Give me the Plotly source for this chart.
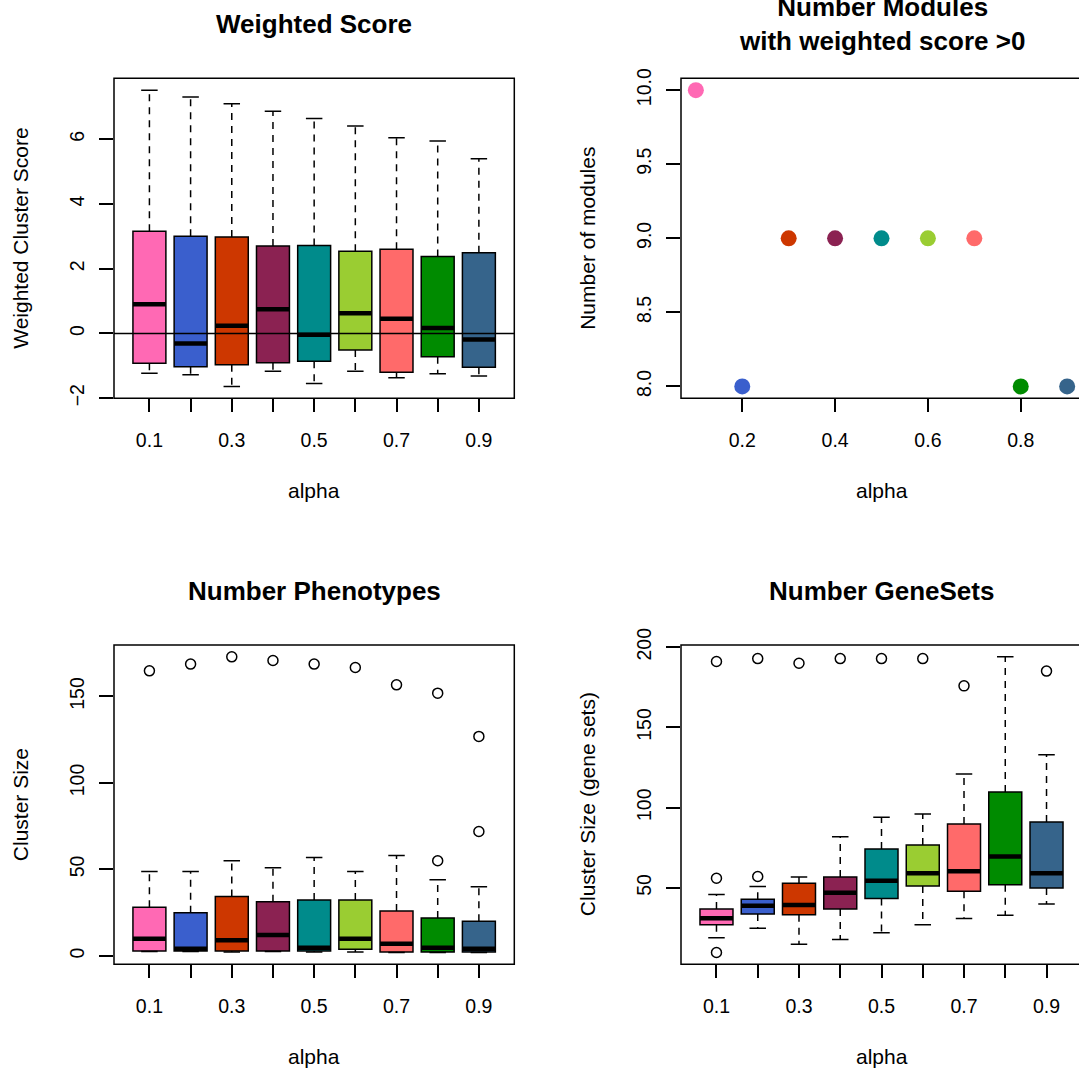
import plotly.graph_objects as go

# ---------------- data ----------------
alpha_idx = [1, 2, 3, 4, 5, 6, 7, 8, 9]
alpha_vals = [0.1, 0.2, 0.3, 0.4, 0.5, 0.6, 0.7, 0.8, 0.9]
alpha_ticktext = ["0.1", "", "0.3", "", "0.5", "", "0.7", "", "0.9"]
colors = ["#FF69B4", "#3A5FCD", "#CD3700", "#8B2252", "#008B8B",
          "#9ACD32", "#FF6A6A", "#008B00", "#36648B"]

# Weighted Score boxplot stats
ws_upper = [7.52, 7.31, 7.10, 6.87, 6.64, 6.41, 6.05, 5.95, 5.40]
ws_q3 = [3.16, 3.00, 2.98, 2.70, 2.72, 2.54, 2.60, 2.38, 2.49]
ws_med = [0.90, -0.31, 0.24, 0.75, -0.04, 0.62, 0.45, 0.17, -0.19]
ws_q1 = [-0.92, -1.03, -0.97, -0.91, -0.86, -0.51, -1.20, -0.72, -1.05]
ws_lower = [-1.23, -1.28, -1.64, -1.17, -1.55, -1.17, -1.37, -1.25, -1.32]
ws_out = [[], [], [], [], [], [], [], [], []]

# Number of modules with weighted score > 0
n_modules = [10, 8, 9, 9, 9, 9, 9, 8, 8]

# Number Phenotypes boxplot stats
ph_upper = [48.8, 48.8, 55.0, 51.0, 56.9, 48.8, 58.1, 44.0, 40.0]
ph_q3 = [28.1, 25.0, 34.4, 31.3, 32.3, 32.3, 26.0, 21.9, 20.0]
ph_med = [10.0, 4.2, 9.0, 12.1, 4.8, 10.0, 7.1, 4.8, 4.2]
ph_q1 = [2.9, 2.9, 2.9, 2.9, 2.9, 3.8, 2.3, 2.3, 2.3]
ph_lower = [2.5, 2.5, 2.3, 2.5, 2.3, 2.3, 2.0, 2.0, 2.0]
ph_out = [[164.8], [168.7], [172.9], [170.8], [168.7], [166.7], [156.7],
          [151.9, 55.0], [126.9, 71.9]]

# Number GeneSets boxplot stats
gs_upper = [45.9, 50.8, 56.8, 81.9, 94.0, 96.1, 121.0, 194.0, 133.0]
gs_q3 = [36.9, 42.9, 52.9, 56.8, 74.3, 76.8, 89.8, 109.8, 91.1]
gs_med = [31.1, 38.8, 39.4, 46.9, 54.4, 59.1, 60.4, 69.5, 59.1]
gs_q1 = [27.0, 33.8, 33.2, 36.9, 43.4, 51.2, 47.9, 51.9, 50.0]
gs_lower = [18.9, 24.9, 14.9, 17.8, 22.0, 27.0, 30.9, 33.0, 40.0]
gs_out = [[191.1, 56.0, 9.75], [192.9, 57.1], [190.0], [192.9], [192.9],
          [192.9], [175.9], [], [185.1]]

# ---------------- layout geometry ----------------
W, H = 1079, 1075
COLX = [(114.0, 514.3), (681.0, 1082.0)]
ROWY = [(78.3, 398.3), (645.0, 964.3)]
FONT = "Liberation Sans, Arial, Helvetica, sans-serif"
TICKFONT = 19.5
LABELFONT = 21
TITLEFONT = 26
LW = 1.5


def rrange(lo, hi):
    d = hi - lo
    return [lo - 0.04 * d, hi + 0.04 * d]


def xdomain(col):
    x0, x1 = COLX[col]
    return [x0 / W, min(x1, W) / W]


def visible_range(col, rng):
    x0, x1 = COLX[col]
    if x1 <= W:
        return rng
    frac = (W - x0) / (x1 - x0)
    return [rng[0], rng[0] + frac * (rng[1] - rng[0])]


def ydomain(row):
    y0, y1 = ROWY[row]
    return [1 - y1 / H, 1 - y0 / H]


fig = go.Figure()


def add_box_panel(k, upper, q3, med, q1, lower, outs):
    xa, ya = ("x" if k == 1 else f"x{k}"), ("y" if k == 1 else f"y{k}")
    fig.add_trace(go.Bar(
        x=alpha_idx, y=[a - b for a, b in zip(q3, q1)], base=q1, width=0.8,
        marker=dict(color=colors, line=dict(color="black", width=LW)),
        xaxis=xa, yaxis=ya, showlegend=False, hoverinfo="skip"))
    # dashed whiskers
    wx, wy = [], []
    for i, xi in enumerate(alpha_idx):
        wx += [xi, xi, None, xi, xi, None]
        wy += [q3[i], upper[i], None, q1[i], lower[i], None]
    fig.add_trace(go.Scatter(x=wx, y=wy, mode="lines",
                             line=dict(color="black", width=LW, dash="7px,6px"),
                             xaxis=xa, yaxis=ya, showlegend=False, hoverinfo="skip"))
    # staples
    sx, sy = [], []
    for i, xi in enumerate(alpha_idx):
        sx += [xi - 0.2, xi + 0.2, None, xi - 0.2, xi + 0.2, None]
        sy += [upper[i], upper[i], None, lower[i], lower[i], None]
    fig.add_trace(go.Scatter(x=sx, y=sy, mode="lines",
                             line=dict(color="black", width=LW),
                             xaxis=xa, yaxis=ya, showlegend=False, hoverinfo="skip"))
    # medians
    mx, my = [], []
    for i, xi in enumerate(alpha_idx):
        mx += [xi - 0.4, xi + 0.4, None]
        my += [med[i], med[i], None]
    fig.add_trace(go.Scatter(x=mx, y=my, mode="lines",
                             line=dict(color="black", width=4.5),
                             xaxis=xa, yaxis=ya, showlegend=False, hoverinfo="skip"))
    # outliers
    ox, oy = [], []
    for i, xi in enumerate(alpha_idx):
        for v in outs[i]:
            ox.append(xi)
            oy.append(v)
    if ox:
        fig.add_trace(go.Scatter(x=ox, y=oy, mode="markers",
                                 marker=dict(symbol="circle-open", size=10,
                                             color="black", line=dict(width=LW)),
                                 xaxis=xa, yaxis=ya, showlegend=False, hoverinfo="skip"))


add_box_panel(1, ws_upper, ws_q3, ws_med, ws_q1, ws_lower, ws_out)
fig.add_trace(go.Scatter(x=alpha_vals, y=n_modules, mode="markers",
                         marker=dict(color=colors, size=16),
                         xaxis="x2", yaxis="y2", showlegend=False, hoverinfo="skip"))
add_box_panel(3, ph_upper, ph_q3, ph_med, ph_q1, ph_lower, ph_out)
add_box_panel(4, gs_upper, gs_q3, gs_med, gs_q1, gs_lower, gs_out)


def allvals(upper, lower, outs):
    v = list(upper) + list(lower)
    for o in outs:
        v += o
    return min(v), max(v)


box_xrange = rrange(0.5, 9.5)
ranges_y = {
    1: rrange(*allvals(ws_upper, ws_lower, ws_out)),
    2: rrange(min(n_modules), max(n_modules)),
    3: rrange(*allvals(ph_upper, ph_lower, ph_out)),
    4: rrange(*allvals(gs_upper, gs_lower, gs_out)),
}
ranges_x = {1: box_xrange, 2: rrange(min(alpha_vals), max(alpha_vals)),
            3: box_xrange, 4: box_xrange}
yticks = {1: [-2, 0, 2, 4, 6], 2: [8.0, 8.5, 9.0, 9.5, 10.0],
          3: [0, 50, 100, 150], 4: [50, 100, 150, 200]}
yticktext = {1: ["\u22122", "0", "2", "4", "6"],
             2: ["8.0", "8.5", "9.0", "9.5", "10.0"],
             3: ["0", "50", "100", "150"], 4: ["50", "100", "150", "200"]}
pos = {1: (0, 0), 2: (1, 0), 3: (0, 1), 4: (1, 1)}

axis_common = dict(showgrid=False, zeroline=False, showline=False,
                   ticks="outside", tickcolor="black", tickwidth=LW,
                   tickfont=dict(family=FONT, size=TICKFONT, color="black"))

layout = dict(width=W, height=H,
              margin=dict(l=0, r=0, t=0, b=0, pad=0, autoexpand=False),
              paper_bgcolor="white", plot_bgcolor="white", barmode="overlay",
              showlegend=False)
for k in range(1, 5):
    col, row = pos[k]
    sx = "" if k == 1 else str(k)
    if k == 2:
        xt = dict(tickvals=[0.2, 0.4, 0.6, 0.8], ticktext=["0.2", "0.4", "0.6", "0.8"])
    else:
        xt = dict(tickvals=alpha_idx, ticktext=alpha_ticktext)
    layout["xaxis" + sx] = dict(domain=xdomain(col), anchor="y" + sx,
                                range=visible_range(col, ranges_x[k]),
                                ticklen=13, ticklabelstandoff=11, automargin=False,
                                tickmode="array", **xt, **axis_common)
    layout["yaxis" + sx] = dict(domain=ydomain(row), anchor="x" + sx,
                                range=ranges_y[k], ticklen=14, tickangle=-90,
                                ticklabelstandoff=7, automargin=False,
                                tickmode="array", tickvals=yticks[k],
                                ticktext=yticktext[k], **axis_common)
fig.update_layout(**layout)

# frames
for k in range(1, 5):
    col, row = pos[k]
    x0, x1 = COLX[col]
    y0, y1 = ROWY[row]
    fig.add_shape(type="rect", xref="paper", yref="paper",
                  x0=x0 / W, x1=x1 / W, y0=1 - y1 / H, y1=1 - y0 / H,
                  line=dict(color="black", width=LW), layer="above")
# horizontal zero line in panel 1
fig.add_shape(type="line", xref="x domain", yref="y", x0=0, x1=1, y0=0, y1=0,
              line=dict(color="black", width=LW), layer="above")

# titles & axis labels
titles = {1: "Weighted Score", 2: "Number Modules<br>with weighted score >0",
          3: "Number Phenotypes", 4: "Number GeneSets"}
title_y = {1: 24.5, 2: 24.5, 3: 591, 4: 591}
ylabels = {1: "Weighted Cluster Score", 2: "Number of modules",
           3: "Cluster Size", 4: "Cluster Size (gene sets)"}
for k in range(1, 5):
    col, row = pos[k]
    x0, x1 = COLX[col]
    y0, y1 = ROWY[row]
    cx = (x0 + x1) / 2
    fig.add_annotation(text="<b>" + titles[k].replace("<br>", "</b><br><b>") + "</b>",
                       xref="paper", yref="paper", x=cx / W, y=1 - title_y[k] / H,
                       xanchor="center", yanchor="middle", showarrow=False,
                       font=dict(family=FONT, size=TITLEFONT, color="black"))
    fig.add_annotation(text="alpha", xref="paper", yref="paper",
                       x=cx / W, y=1 - (y1 + 92) / H, xanchor="center",
                       yanchor="middle", showarrow=False,
                       font=dict(family=FONT, size=LABELFONT, color="black"))
    fig.add_annotation(text=ylabels[k], xref="paper", yref="paper",
                       x=(x0 - 93.5) / W, y=1 - ((y0 + y1) / 2) / H,
                       xanchor="center", yanchor="middle", textangle=-90,
                       showarrow=False,
                       font=dict(family=FONT, size=LABELFONT, color="black"))

fig.write_html("out.html")
